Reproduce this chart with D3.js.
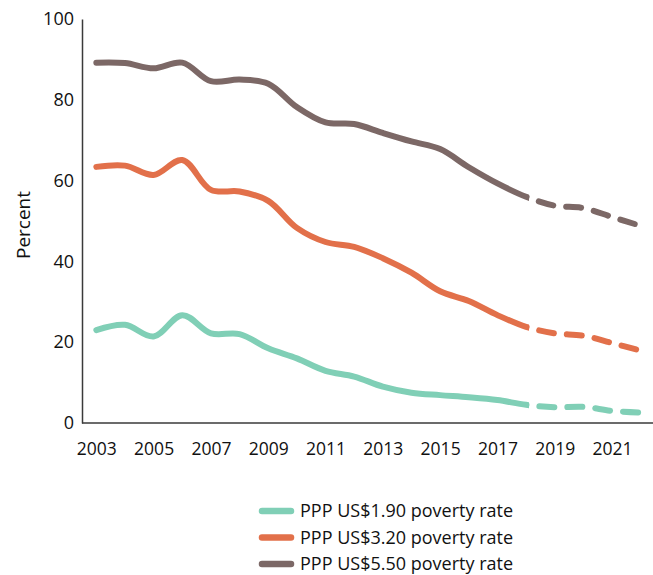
<!DOCTYPE html>
<html>
<head>
<meta charset="utf-8">
<script src="https://cdn.jsdelivr.net/npm/d3@7"></script>
<style>
  html, body { margin: 0; padding: 0; background: #fff; }
  svg { display: block; }
  text { font-family: "Open Sans", "Noto Sans", sans-serif; fill: #111; }
</style>
</head>
<body>
<svg id="chart" width="653" height="575"></svg>
<script>
const years = d3.range(2003, 2023);
const tickYears = [2003, 2005, 2007, 2009, 2011, 2013, 2015, 2017, 2019, 2021];
const yTicks = [0, 20, 40, 60, 80, 100];
const projectionStart = 2018;

const rate190 = [23.0, 24.3, 21.4, 26.7, 22.2, 22.0, 18.5, 16.0, 12.9, 11.5, 9.0, 7.5, 6.9, 6.4, 5.7, 4.5, 3.9, 4.0, 3.0, 2.6];
const rate320 = [63.4, 63.7, 61.4, 65.1, 57.7, 57.3, 55.0, 48.3, 44.8, 43.6, 40.8, 37.2, 32.6, 30.2, 26.7, 23.8, 22.2, 21.6, 19.8, 17.9];
const rate550 = [89.2, 89.1, 87.8, 89.2, 84.6, 85.0, 84.0, 78.2, 74.4, 74.0, 71.8, 69.7, 67.8, 63.3, 59.3, 56.0, 53.8, 53.2, 51.0, 48.8];

const seriesNames = ["PPP US$1.90 poverty rate", "PPP US$3.20 poverty rate", "PPP US$5.50 poverty rate"];
const seriesValues = [rate190, rate320, rate550];
const seriesColors = ["#80cfb6", "#e2704a", "#7c6866"];

const svg = d3.select("#chart");
const plotLeft = 82, plotRight = 655, plotTop = 19, plotBottom = 423;

const x = d3.scalePoint().domain(years).range([plotLeft, plotRight]).padding(0.5);
const y = d3.scaleLinear().domain([0, 100]).range([plotBottom, plotTop]);

const defs = svg.append("defs");
defs.append("clipPath").attr("id", "clipSolid")
  .append("rect").attr("x", 0).attr("y", 0).attr("width", x(projectionStart) + 3).attr("height", 575);
defs.append("clipPath").attr("id", "clipDash")
  .append("rect").attr("x", x(projectionStart) + 3).attr("y", 0).attr("width", 653 - x(projectionStart)).attr("height", 575);

const yAxis = d3.axisLeft(y).tickValues(yTicks).tickSize(0).tickPadding(8);
const gy = svg.append("g").attr("transform", `translate(${plotLeft},0)`).call(yAxis);
gy.select(".domain").attr("stroke", "#3a3a3a").attr("stroke-width", 1.5);
gy.selectAll("text").attr("font-size", 18).attr("x", -8).style("font-family", '"Open Sans", sans-serif').attr("fill", "#111");

const xAxis = d3.axisBottom(x).tickValues(tickYears).tickSize(0).tickPadding(20);
const gx = svg.append("g").attr("transform", `translate(0,${plotBottom})`).call(xAxis);
gx.select(".domain").attr("stroke", "#3a3a3a").attr("stroke-width", 1.5).attr("d", `M${plotLeft},0H${plotRight}`);
gx.selectAll("text").attr("font-size", 17.5).style("font-family", '"Open Sans", sans-serif').attr("fill", "#111");

svg.append("text")
  .attr("transform", `translate(30,${(plotTop + plotBottom) / 2 + 4}) rotate(-90)`)
  .attr("text-anchor", "middle")
  .attr("font-size", 19)
  .text("Percent");

const line = d3.line()
  .x((d, i) => x(years[i]))
  .y(d => y(d))
  .curve(d3.curveCatmullRom.alpha(0.5));

const dashLen = 15, gapLen = 13;
seriesValues.forEach((vals, k) => {
  svg.append("path")
    .attr("d", line(vals))
    .attr("fill", "none")
    .attr("stroke", seriesColors[k])
    .attr("stroke-width", 6)
    .attr("stroke-linecap", "round")
    .attr("stroke-linejoin", "round")
    .attr("clip-path", "url(#clipSolid)");
  const dp = svg.append("path")
    .attr("d", line(vals))
    .attr("fill", "none")
    .attr("stroke", seriesColors[k])
    .attr("stroke-width", 6)
    .attr("stroke-linecap", "round")
    .attr("stroke-linejoin", "round")
    .attr("stroke-dasharray", `${dashLen} ${gapLen}`)
    .attr("clip-path", "url(#clipDash)");
  const node = dp.node();
  const total = node.getTotalLength();
  const target = x(projectionStart) + 3;
  let lo = 0, hi = total;
  for (let it = 0; it < 40; it++) {
    const mid = (lo + hi) / 2;
    if (node.getPointAtLength(mid).x < target) lo = mid; else hi = mid;
  }
  const L = (lo + hi) / 2;
  dp.attr("stroke-dashoffset", dashLen - L + 3);
});

const legendRows = [511, 537.5, 564];
seriesNames.forEach((name, k) => {
  const g = svg.append("g").attr("transform", `translate(0,${legendRows[k]})`);
  g.append("line")
    .attr("x1", 262).attr("x2", 291)
    .attr("y1", 0).attr("y2", 0)
    .attr("stroke", seriesColors[k])
    .attr("stroke-width", 6.5)
    .attr("stroke-linecap", "round");
  g.append("text")
    .attr("x", 300).attr("y", 6.3)
    .attr("font-size", 18)
    .text(name);
});
</script>
</body>
</html>
